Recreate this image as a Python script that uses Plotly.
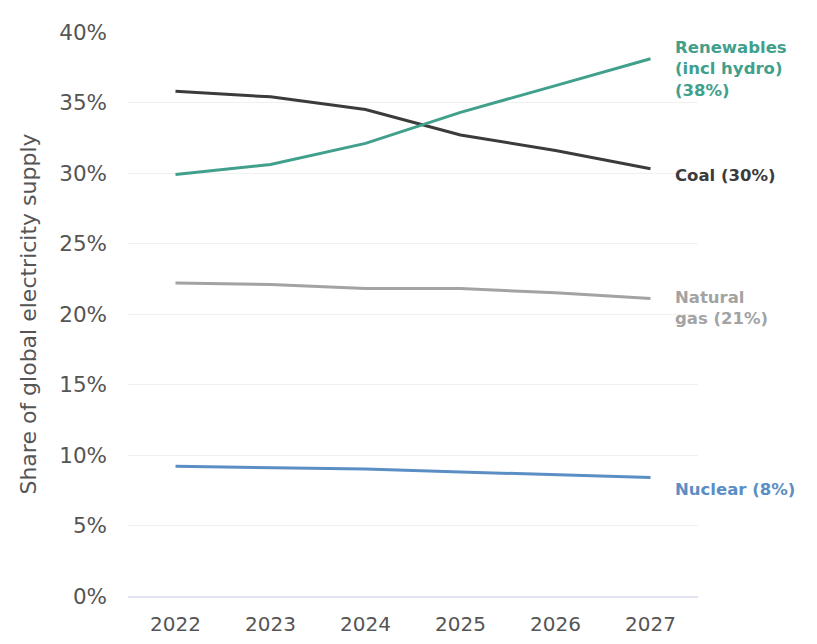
import plotly.graph_objects as go

years = [2022, 2023, 2024, 2025, 2026, 2027]
coal = [35.8, 35.4, 34.5, 32.7, 31.6, 30.3]
renewables = [29.9, 30.6, 32.1, 34.3, 36.2, 38.1]
gas = [22.2, 22.1, 21.8, 21.8, 21.5, 21.1]
nuclear = [9.2, 9.1, 9.0, 8.8, 8.6, 8.4]

series = [
    ("Coal", coal, "#3b3b3b", "Coal (30%)"),
    ("Renewables", renewables, "#41a08c", "Renewables<br>(incl hydro)<br>(38%)"),
    ("Natural gas", gas, "#a3a3a3", "Natural<br>gas (21%)"),
    ("Nuclear", nuclear, "#5b8ec4", "Nuclear (8%)"),
]

FONT = "DejaVu Sans, Noto Sans, sans-serif"

fig = go.Figure()
for name, vals, color, label in series:
    fig.add_trace(go.Scatter(x=years, y=vals, mode="lines", name=name,
                             line=dict(color=color, width=3), showlegend=False))

yoff = {"Coal": -7, "Renewables": -10, "Natural gas": -10, "Nuclear": -12}
for name, vals, color, label in series:
    fig.add_annotation(x=years[-1], y=vals[-1], text=f"<b>{label}</b>", showarrow=False,
                       xanchor="left", align="left", xshift=22, yshift=yoff[name],
                       font=dict(family=FONT, size=16.5, color=color))

fig.update_layout(
    width=817, height=644,
    margin=dict(l=120, r=127, t=22, b=56),
    plot_bgcolor="white", paper_bgcolor="white",
    font=dict(family=FONT, color="#555555"),
)
fig.update_xaxes(range=[2021.5, 2027.5], tickvals=years, ticktext=[str(y) for y in years],
                 showgrid=False, showline=True, linecolor="#dfe4f0", linewidth=1.5,
                 tickfont=dict(size=20, color="#555555"), ticks="", zeroline=False,
                 ticklabelstandoff=9)
fig.update_yaxes(range=[0, 40], tickvals=[0, 5, 10, 15, 20, 25, 30, 35, 40],
                 ticktext=["0%", "5%", "10%", "15%", "20%", "25%", "30%", "35%", "40%"],
                 showgrid=True, gridcolor="#f0f0f0", gridwidth=1, zeroline=False,
                 tickfont=dict(size=21.5, color="#555555"), ticks="", ticklabelstandoff=20,
                 title=dict(text="Share of global electricity supply", font=dict(size=22, color="#555555"), standoff=16))

fig.write_html("out.html")
